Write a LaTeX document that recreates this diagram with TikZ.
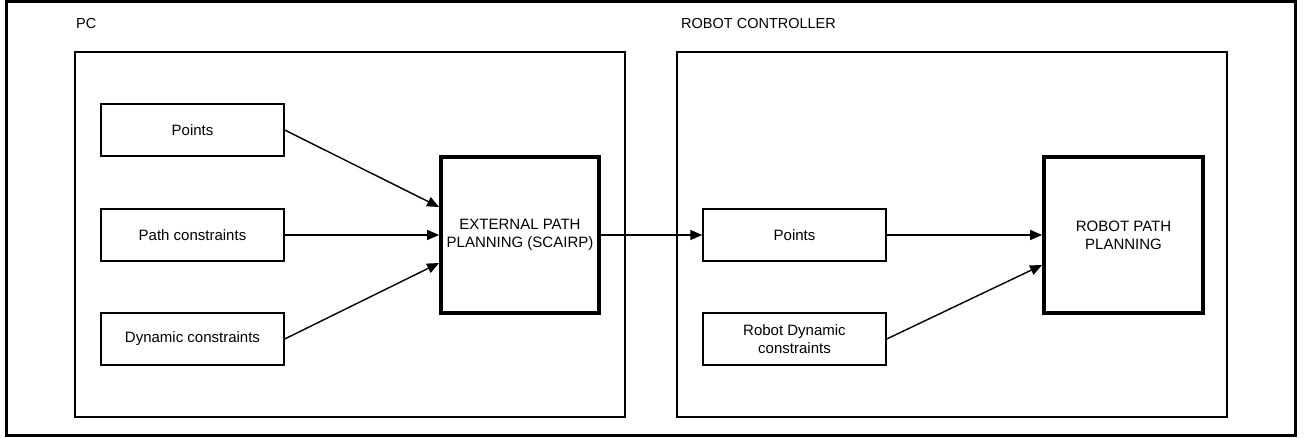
\documentclass[tikz,border=0pt]{standalone}
\usepackage{fontspec}
\setmainfont{Liberation Sans}
\usetikzlibrary{arrows.meta}
\begin{document}
\begin{tikzpicture}[x=1pt,y=-1pt,
  every node/.style={font=\fontsize{15}{18}\selectfont},
  group/.style={draw, line width=1.5pt, rectangle, minimum width=#1, minimum height=365pt, inner sep=0pt},
  item/.style={draw, line width=1.4pt, rectangle, minimum width=#1, minimum height=52pt, inner sep=0pt, align=center},
  planner/.style={draw, line width=3.8pt, rectangle, minimum width=#1, minimum height=156pt, inner sep=0pt, align=center},
  flow/.style={line width=1.4pt, -{Triangle[length=12pt,width=10pt]}},
  caption/.style={anchor=west, inner sep=0pt, font=\fontsize{14.5}{17}\selectfont}]
  \useasboundingbox (0,0) rectangle (1304,438);
  % outer frame
  \draw[line width=3pt] (6.5,1.5) rectangle (1295.5,435.5);

  % PC side
  \node[caption] (pclabel) at (76,24) {PC};
  \node[group=550pt] (pcframe) at (350,234.5) {};
  \node[item=183pt] (pts) at (192.5,130) {Points};
  \node[item=183pt] (pcon) at (192.5,235) {Path constraints};
  \node[item=183pt] (dyn) at (192.5,339) {Dynamic constraints};
  \node[planner=158pt] (ext) at (520,235) {EXTERNAL PATH\\PLANNING (SCAIRP)};

  % robot controller side
  \node[caption] (rclabel) at (681,24) {ROBOT CONTROLLER};
  \node[group=550pt] (rcframe) at (952,234.5) {};
  \node[item=183pt] (pts2) at (794.5,235) {Points};
  \node[item=183pt] (rdyn) at (794.5,339) {Robot Dynamic\\constraints};
  \node[planner=159pt] (rpp) at (1123.5,235) {ROBOT PATH\\PLANNING};

  % connectors
  \draw[flow] (pts.east) -- ([yshift=28pt]ext.west);
  \draw[flow] (pcon.east) -- (ext.west);
  \draw[flow] (dyn.east) -- ([yshift=-28pt]ext.west);
  \draw[flow] (ext.east) -- (pts2.west);
  \draw[flow] (pts2.east) -- (rpp.west);
  \draw[flow] (rdyn.east) -- ([yshift=-30pt]rpp.west);
\end{tikzpicture}
\end{document}
